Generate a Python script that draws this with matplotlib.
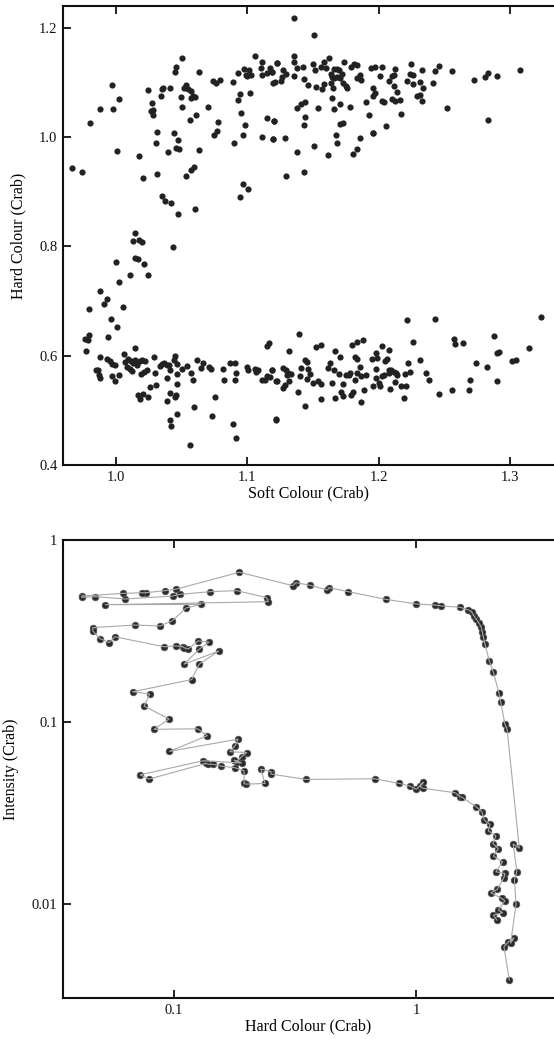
import matplotlib
matplotlib.use("Agg")
import matplotlib.pyplot as plt
from matplotlib.ticker import FixedLocator, FixedFormatter, NullLocator

plt.rcParams['font.family'] = 'serif'
plt.rcParams['font.serif'] = ['Liberation Serif', 'DejaVu Serif']

# colour-colour diagram, upper branch (soft colour, hard colour)
upper_left = [
    (0.9666, 0.943), (0.9737, 0.936), (0.980, 1.0255), (0.988, 1.051), (0.997, 1.0957),
    (0.998, 1.052), (1.0026, 1.0694), (1.001, 0.974), (1.0174, 0.966), (1.0207, 0.9255),
    (1.0247, 1.0859), (1.0275, 1.062), (1.0285, 1.050), (1.0283, 1.041), (1.0265, 1.047),
    (1.034, 1.0755), (1.035, 1.088), (1.0357, 1.0896), (1.041, 1.090), (1.031, 1.0084),
    (1.0308, 0.990), (1.0313, 0.932), (1.035, 0.892), (1.0374, 0.8834), (1.042, 0.8797),
    (1.0395, 0.972), (1.044, 1.0072), (1.047, 0.995), (1.046, 0.980), (1.048, 0.979),
    (1.047, 0.8596), (1.0448, 1.1194), (1.046, 1.128), (1.0504, 1.1438), (1.0491, 1.0731),
    (1.050, 1.0554), (1.0514, 1.0889), (1.053, 1.0944), (1.0545, 1.0877), (1.057, 1.0835),
    (1.0585, 1.0755), (1.060, 1.0737), (1.057, 1.0706), (1.056, 1.031), (1.061, 1.040),
    (1.0534, 0.928), (1.057, 0.9395), (1.0595, 0.9444), (1.0603, 0.8687), (1.0628, 0.9767),
    (1.063, 1.1194), (1.0702, 1.0554), (1.0735, 1.103), (1.076, 1.0993), (1.0793, 1.1036),
    (1.0745, 1.0035), (1.077, 1.012), (1.078, 1.0273), (1.0892, 1.1), (1.0895, 0.990),
    (1.0925, 1.117), (1.0974, 1.125), (1.1014, 1.123), (1.103, 1.113), (1.099, 1.113),
    (1.100, 1.112), (1.0925, 1.068), (1.0946, 1.078), (1.095, 1.0438), (1.0979, 1.023),
    (1.097, 1.004), (1.0964, 0.9145), (1.1004, 0.9047), (1.0946, 0.8895), (1.1022, 1.080),
    (1.1055, 1.148), (1.1111, 1.1377), (1.1103, 1.126), (1.1113, 1.113), (1.1172, 1.1255),
    (1.115, 1.117), (1.1228, 1.1353), (1.119, 1.1194), (1.1111, 1.0), (1.115, 1.035),
    (1.1205, 1.0298), (1.1197, 0.997), (1.0433, 0.7986), (1.0128, 0.8096), (1.0146, 0.8242),
    (1.0174, 0.812), (1.0197, 0.8077),
]

upper_right = [
    (1.1356, 1.217), (1.151, 1.186), (1.1356, 1.148), (1.1356, 1.1377), (1.1379, 1.126),
    (1.142, 1.1274), (1.1358, 1.1115), (1.1224, 1.1353), (1.1186, 1.1188), (1.1275, 1.1219),
    (1.1295, 1.1158), (1.1262, 1.1097), (1.1257, 1.103), (1.1198, 1.0987), (1.1209, 1.1005),
    (1.1432, 1.106), (1.146, 1.095), (1.1526, 1.0908), (1.1569, 1.0877), (1.1587, 1.098),
    (1.1503, 1.134), (1.1516, 1.1219), (1.1562, 1.128), (1.158, 1.1365), (1.1625, 1.1438),
    (1.160, 1.126), (1.1635, 1.1158), (1.1643, 1.1097), (1.1661, 1.1085), (1.1681, 1.1097),
    (1.1706, 1.1072), (1.1717, 1.1146), (1.1656, 1.1243), (1.1681, 1.1249), (1.1699, 1.1219),
    (1.1737, 1.137), (1.164, 1.0987), (1.165, 1.0895), (1.1727, 1.0987), (1.1752, 1.0938),
    (1.1757, 1.0895), (1.1788, 1.1274), (1.1813, 1.134), (1.1833, 1.131), (1.1859, 1.1139),
    (1.1838, 1.1072), (1.1864, 1.1048), (1.1945, 1.126), (1.1973, 1.129), (1.2029, 1.128),
    (1.2011, 1.111), (1.2126, 1.1243), (1.2105, 1.111), (1.2113, 1.1134), (1.2075, 1.1017),
    (1.2113, 1.0926), (1.2138, 1.0816), (1.1955, 1.0895), (1.1973, 1.0804), (1.196, 1.0743),
    (1.2024, 1.0651), (1.2042, 1.0645), (1.210, 1.070), (1.2126, 1.0664), (1.2164, 1.0682),
    (1.2245, 1.1329), (1.224, 1.1146), (1.2258, 1.1134), (1.2329, 1.1225), (1.2428, 1.120),
    (1.2456, 1.1292), (1.2555, 1.1207), (1.2212, 1.1024), (1.2265, 1.0963), (1.2316, 1.1005),
    (1.2336, 1.0902), (1.241, 1.0981), (1.229, 1.0755), (1.2313, 1.0761), (1.2331, 1.0651),
    (1.2517, 1.0536), (1.2727, 1.1048), (1.2809, 1.1103), (1.2832, 1.117), (1.2903, 1.1109),
    (1.3073, 1.1231), (1.2834, 1.0316), (1.1902, 1.0639), (1.1927, 1.0401), (1.1958, 1.0066),
    (1.2054, 1.0206), (1.2169, 1.042), (1.1381, 1.0536), (1.1407, 1.061), (1.144, 1.064),
    (1.1541, 1.053), (1.1643, 1.0706), (1.1663, 1.0511), (1.1704, 1.061), (1.1785, 1.0542),
    (1.1206, 1.0298), (1.144, 1.0359), (1.143, 1.0218), (1.1704, 1.0237), (1.1732, 1.0255),
    (1.1196, 0.9968), (1.1285, 0.998), (1.1376, 0.9724), (1.1506, 0.9828), (1.1617, 0.9663),
    (1.1676, 1.0035), (1.1681, 0.9889), (1.1808, 0.9688), (1.1838, 0.9773), (1.1854, 0.9974),
    (1.196, 1.0066), (1.1292, 0.9291), (1.1432, 0.9352),
]

# lower branch
lower_left = [
    (1.0003, 0.7718), (1.0143, 0.7792), (1.0166, 0.7767), (1.0214, 0.7682), (1.011, 0.7468),
    (1.0245, 0.748), (1.0021, 0.7346), (0.9879, 0.7175), (0.993, 0.7035), (0.991, 0.695),
    (0.9793, 0.6852), (1.0054, 0.6889), (0.996, 0.667), (1.0009, 0.6517), (0.994, 0.6346),
    (0.976, 0.6303), (0.9793, 0.6383), (0.9783, 0.6279), (0.9775, 0.6078), (1.0143, 0.6145),
    (0.9876, 0.598), (0.993, 0.5943), (0.9955, 0.5894), (0.9973, 0.5846), (0.9993, 0.5834),
    (1.0057, 0.6029), (1.0072, 0.5876), (1.0092, 0.5937), (1.0113, 0.590), (1.0128, 0.5864),
    (1.0146, 0.5925), (1.0161, 0.5876), (1.0179, 0.5907), (1.0199, 0.5925), (1.0222, 0.5907),
    (1.008, 0.579), (1.0108, 0.576), (1.0123, 0.5712), (1.0163, 0.5834), (1.0189, 0.5663),
    (1.0212, 0.5693), (1.0235, 0.5742), (0.9864, 0.5742), (0.9851, 0.5742), (0.9871, 0.5638),
    (0.9876, 0.5589), (0.9973, 0.562), (0.999, 0.554), (1.0019, 0.565), (1.0164, 0.5272),
    (1.0186, 0.5205), (1.0204, 0.5297), (1.0247, 0.5248), (1.0257, 0.5425), (1.0306, 0.547),
    (1.0387, 0.5175), (1.0412, 0.5315), (1.0448, 0.5236), (1.0458, 0.528), (1.0463, 0.5486),
    (1.0412, 0.4827), (1.0417, 0.4717), (1.0461, 0.493), (1.0565, 0.437), (1.0595, 0.5053),
    (1.073, 0.4888), (1.075, 0.5242), (1.0892, 0.4748), (1.0913, 0.4492), (1.122, 0.4827),
    (1.1149, 0.6169), (1.1164, 0.6236), (1.029, 0.598), (1.0293, 0.5687), (1.0334, 0.5809),
    (1.0349, 0.5846), (1.0367, 0.587), (1.0387, 0.5821), (1.0407, 0.5834), (1.0412, 0.573),
    (1.0438, 0.5919), (1.0451, 0.5998), (1.0463, 0.5846), (1.0387, 0.5583), (1.0463, 0.5669),
    (1.0501, 0.5754), (1.0542, 0.5803), (1.0567, 0.5687), (1.0583, 0.5547), (1.0616, 0.5913),
    (1.0644, 0.5779), (1.0659, 0.5858), (1.071, 0.5791), (1.072, 0.576), (1.0816, 0.5754),
    (1.0824, 0.5559), (1.087, 0.5864), (1.0903, 0.5864), (1.0908, 0.5559), (1.091, 0.5681),
    (1.0997, 0.5791), (1.1004, 0.5742), (1.1058, 0.576), (1.1068, 0.5693), (1.1078, 0.573),
    (1.1111, 0.5559), (1.1131, 0.5559), (1.1149, 0.562), (1.1169, 0.5608), (1.1187, 0.573),
    (1.1225, 0.5541),
]

lower_right = [
    (1.1397, 0.6389), (1.132, 0.609), (1.1219, 0.5541), (1.1186, 0.573), (1.1219, 0.4833),
    (1.1275, 0.5773), (1.1295, 0.573), (1.1313, 0.5681), (1.1336, 0.5663), (1.130, 0.5638),
    (1.1275, 0.5407), (1.129, 0.5455), (1.132, 0.5529), (1.1389, 0.5327), (1.1442, 0.5071),
    (1.1407, 0.5773), (1.1402, 0.562), (1.144, 0.5913), (1.1452, 0.5888), (1.1465, 0.576),
    (1.1452, 0.5571), (1.1478, 0.5663), (1.1503, 0.5498), (1.1536, 0.5541), (1.1559, 0.5474),
    (1.1557, 0.5205), (1.1524, 0.6151), (1.1559, 0.6187), (1.1617, 0.5773), (1.1633, 0.5864),
    (1.1656, 0.573), (1.1671, 0.6078), (1.1706, 0.5968), (1.1643, 0.5498), (1.1668, 0.523),
    (1.1694, 0.5669), (1.1727, 0.5474), (1.1714, 0.5327), (1.1732, 0.5266), (1.1752, 0.5651),
    (1.1783, 0.5681), (1.1772, 0.5644), (1.1788, 0.5278), (1.1808, 0.5327), (1.1795, 0.6199),
    (1.1833, 0.6242), (1.1879, 0.6279), (1.1816, 0.5974), (1.1838, 0.5937), (1.1854, 0.5785),
    (1.1838, 0.5681), (1.1864, 0.562), (1.1905, 0.5644), (1.1821, 0.5547), (1.1887, 0.5364),
    (1.1869, 0.515), (1.1948, 0.5937), (1.1976, 0.6047), (1.1986, 0.5949), (1.1981, 0.576),
    (1.1955, 0.5449), (1.1981, 0.5589), (1.1999, 0.5498), (1.2011, 0.5437), (1.2024, 0.562),
    (1.2037, 0.5644), (1.205, 0.5894), (1.2062, 0.5943), (1.2082, 0.6096), (1.2075, 0.5742),
    (1.2082, 0.5681), (1.2092, 0.573), (1.2113, 0.5705), (1.2133, 0.5681), (1.2138, 0.5638),
    (1.2087, 0.5388), (1.2126, 0.551), (1.2026, 0.6181), (1.2171, 0.5437), (1.2189, 0.5217),
    (1.2209, 0.5449), (1.2202, 0.5669), (1.2225, 0.5858), (1.224, 0.5693), (1.2263, 0.6248),
    (1.2311, 0.5919), (1.2214, 0.6645), (1.2362, 0.5681), (1.2385, 0.5559), (1.2428, 0.6675),
    (1.2463, 0.5291), (1.256, 0.5364), (1.257, 0.631), (1.2578, 0.6212), (1.2641, 0.6236),
    (1.2684, 0.5364), (1.2692, 0.5559), (1.2738, 0.5864), (1.2827, 0.5791), (1.288, 0.6352),
    (1.290, 0.6053), (1.2915, 0.6059), (1.290, 0.5535), (1.3012, 0.5901), (1.3045, 0.5925),
    (1.3144, 0.6132), (1.3235, 0.6712),
]

# hardness-intensity track, in time order (hard colour, intensity)
track_hard = [
    2.42, 2.30, 2.40, 2.53, 2.45, 2.58, 2.54, 2.60, 2.51, 2.66,
    2.37, 2.32, 2.23, 2.19, 2.08, 2.00, 1.92, 1.89, 1.87, 1.85,
    1.81, 1.77, 1.73, 1.69, 1.64, 1.515, 1.27, 1.195, 1.0, 0.748,
    0.524, 0.4375, 0.429, 0.364, 0.318, 0.309, 0.186, 0.1016, 0.0918, 0.0764,
    0.0736, 0.0618, 0.0416, 0.0416, 0.0472, 0.0628, 0.0988, 0.106, 0.141, 0.1815,
    0.241, 0.245, 0.052, 0.129, 0.112, 0.0984, 0.0875, 0.0688, 0.0462, 0.0462,
    0.0495, 0.054, 0.057, 0.0912, 0.1016, 0.1086, 0.110, 0.1146, 0.1256, 0.1394,
    0.1268, 0.110, 0.153, 0.127, 0.1183, 0.0675, 0.0794, 0.0752, 0.0954, 0.0827,
    0.1253, 0.1372, 0.0957, 0.184, 0.1786, 0.170, 0.1995, 0.19, 0.1815, 0.177,
    0.19, 0.132, 0.0724, 0.0788, 0.1355, 0.1386, 0.145, 0.156, 0.1786, 0.1945,
    0.1945, 0.1977, 0.2375, 0.228, 0.2514, 0.2514, 0.3497, 0.673, 0.851, 0.94,
    1.0, 1.07, 1.035, 1.063, 1.445, 1.515, 1.54, 1.763, 1.862, 1.909,
    2.015, 1.98, 2.13, 2.07, 2.18, 2.08, 2.27, 2.13, 2.32, 2.30,
    2.16, 2.03, 2.25, 2.32, 2.18, 2.27, 2.08, 2.15,
]
track_intensity = [
    0.00382, 0.00583, 0.00621, 0.00653, 0.0061, 0.0100, 0.0136, 0.0151, 0.0214, 0.0203,
    0.0912, 0.0975, 0.129, 0.145, 0.1875, 0.217, 0.268, 0.294, 0.313, 0.334,
    0.351, 0.367, 0.382, 0.404, 0.4125, 0.427, 0.434, 0.439, 0.445, 0.472,
    0.520, 0.547, 0.531, 0.564, 0.583, 0.561, 0.665, 0.536, 0.527, 0.513,
    0.513, 0.509, 0.492, 0.484, 0.488, 0.474, 0.492, 0.503, 0.520, 0.527,
    0.482, 0.458, 0.441, 0.443, 0.423, 0.360, 0.337, 0.341, 0.330, 0.316,
    0.287, 0.273, 0.294, 0.259, 0.262, 0.259, 0.256, 0.252, 0.279, 0.275,
    0.2507, 0.208, 0.2455, 0.208, 0.171, 0.1467, 0.1425, 0.1224, 0.1039, 0.0912,
    0.0918, 0.0841, 0.069, 0.0806, 0.0741, 0.0687, 0.068, 0.0645, 0.0605, 0.0618,
    0.0596, 0.0613, 0.0513, 0.0486, 0.0593, 0.0586, 0.0586, 0.0573, 0.0561, 0.054,
    0.046, 0.0456, 0.046, 0.0552, 0.0533, 0.0518, 0.0484, 0.0488, 0.046, 0.0445,
    0.0427, 0.0467, 0.0445, 0.0433, 0.0409, 0.0389, 0.0387, 0.0343, 0.0322, 0.0289,
    0.0274, 0.0253, 0.0237, 0.0215, 0.0202, 0.01836, 0.01708, 0.01505, 0.01474, 0.0140,
    0.01205, 0.01154, 0.01075, 0.01043, 0.00927, 0.00896, 0.0087, 0.00817,
]

fig = plt.figure(figsize=(5.54, 10.39), dpi=100)

# top panel: colour-colour
ax1 = fig.add_axes([0.1137, 0.5525, 0.8863, 0.4418])
points = upper_left + upper_right + lower_left + lower_right
soft = [p[0] for p in points]
hard = [p[1] for p in points]
ax1.scatter(soft, hard, s=20, c='#222222', linewidths=0, zorder=3)
ax1.set_xlim(0.9596, 1.3335)
ax1.set_ylim(0.4, 1.24)
ax1.set_xticks([1.0, 1.1, 1.2, 1.3])
ax1.set_xticklabels(['1.0', '1.1', '1.2', '1.3'])
ax1.set_yticks([0.4, 0.6, 0.8, 1.0, 1.2])
ax1.set_yticklabels(['0.4', '0.6', '0.8', '1.0', '1.2'])
ax1.set_xlabel("Soft Colour (Crab)", fontsize=11.5, labelpad=1)
ax1.set_ylabel("Hard Colour (Crab)", fontsize=11.5, labelpad=9)

# bottom panel: hardness-intensity
ax2 = fig.add_axes([0.1137, 0.03946, 0.8863, 0.44084])
ax2.set_xscale('log')
ax2.set_yscale('log')
ax2.plot(track_hard, track_intensity, ls='none', marker='o', ms=4.7,
         mfc='#2a2a2a', mec='#555555', mew=0.6, zorder=2)
ax2.plot(track_hard, track_intensity, color='#a8a8a8', lw=0.8, zorder=3)
ax2.set_xlim(0.0348, 3.7)
ax2.set_ylim(0.00305, 1.0)
ax2.xaxis.set_major_locator(FixedLocator([0.1, 1]))
ax2.xaxis.set_major_formatter(FixedFormatter(['0.1', '1']))
ax2.yaxis.set_major_locator(FixedLocator([0.01, 0.1, 1]))
ax2.yaxis.set_major_formatter(FixedFormatter(['0.01', '0.1', '1']))
ax2.xaxis.set_minor_locator(NullLocator())
ax2.yaxis.set_minor_locator(NullLocator())
ax2.set_xlabel("Hard Colour (Crab)", fontsize=11.5, labelpad=1)
ax2.set_ylabel("Intensity (Crab)", fontsize=11.5, labelpad=9)

for ax in (ax1, ax2):
    ax.spines['right'].set_visible(False)
    for side in ('left', 'bottom', 'top'):
        ax.spines[side].set_linewidth(1.5)
        ax.spines[side].set_color('#111111')
    ax.tick_params(axis='both', which='major', direction='in', length=5.5, width=1.3,
                   labelsize=10.5, top=True, right=False, pad=4, colors='#111111')

fig.savefig("out.png", dpi=100)
